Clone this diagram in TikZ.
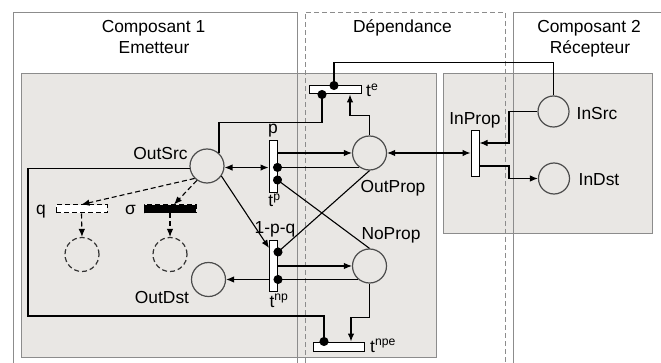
\documentclass[tikz,border=0pt]{standalone}
\usepackage{fontspec}
\setmainfont{Liberation Sans}
\usetikzlibrary{arrows.meta}
\definecolor{boxfill}{RGB}{233,231,228}
\definecolor{boxline}{RGB}{140,140,140}
\newcommand{\tlab}[1]{t\textsuperscript{#1}}

\begin{document}
\begin{tikzpicture}[x=1pt,y=-1pt,
  font=\fontsize{17.4}{21}\selectfont,
  place/.style={circle,draw=black!70,line width=1.2pt,minimum size=34pt,inner sep=0pt},
  vtrans/.style={rectangle,draw,fill=white,line width=1pt,minimum width=8pt,minimum height=52pt,inner sep=0pt},
  htrans/.style={rectangle,draw,fill=white,line width=1pt,minimum width=52pt,minimum height=8pt,inner sep=0pt},
  flow/.style={line width=1.1pt,-{Latex[length=8pt,width=6.5pt]}},
  flow2/.style={line width=1.1pt,{Latex[length=8pt,width=6.5pt]}-{Latex[length=8pt,width=6.5pt]}},
  dot/.style={line width=1.1pt,-{Circle[length=9pt]},shorten >=-4.5pt},
  maybe/.style={dash pattern=on 5pt off 3pt},
  lbl/.style={inner sep=0pt,anchor=base}]

\useasboundingbox (0,0) rectangle (661,363);

% gray areas
\draw[boxline,fill=boxfill] (21,73) rectangle (436,357);
\draw[boxline,fill=boxfill] (443,73) rectangle (652,233);

% component frames
\draw[boxline] (13,363) -- (13,12) -- (297,12) -- (297,363);
\draw[boxline,dash pattern=on 5pt off 3pt] (305,363) -- (305,12) -- (505,12) -- (505,363);
\draw[boxline] (513,363) -- (513,12) -- (661,12);

\node[lbl] (c1a) at (153.5,33) {Composant 1};
\node[lbl] (c1b) at (154,54) {Emetteur};
\node[lbl] (dep) at (402.5,33) {Dépendance};
\node[lbl] (c2a) at (589,33) {Composant 2};
\node[lbl] (c2b) at (590,54) {Récepteur};

% places
\node[place] (OutSrc) at (207,166) {};
\node[place] (OutProp) at (369.5,153) {};
\node[place] (NoProp) at (369.5,266) {};
\node[place] (OutDst) at (208.5,279.5) {};
\node[place,minimum size=31pt] (InSrc) at (553.5,111.5) {};
\node[place,minimum size=31pt] (InDst) at (554,178.5) {};
\node[place,draw=black!80,maybe] (Dq) at (82,254.5) {};
\node[place,draw=black!80,maybe] (Ds) at (170,254.5) {};

% transitions
\node[vtrans] (tp) at (273,167) {};
\node[vtrans,minimum height=51pt] (tnp) at (273.5,266.5) {};
\node[htrans] (te) at (335,90) {};
\node[htrans,minimum width=51pt,minimum height=9pt] (tnpe) at (338.5,346.5) {};
\node[vtrans,minimum height=46pt] (InProp) at (475,154) {};
\node[htrans,maybe,minimum width=51pt] (q) at (81.5,209) {};
\node[htrans,maybe,fill=black] (sigma) at (170,209) {};

% labels
\node[lbl] (lOutSrc) at (160.5,160) {OutSrc};
\node[lbl] (lOutProp) at (393,193) {OutProp};
\node[lbl] (lNoProp) at (391,240) {NoProp};
\node[lbl] (lOutDst) at (162,303) {OutDst};
\node[lbl] (lInSrc) at (597,120) {InSrc};
\node[lbl] (lInDst) at (599,186) {InDst};
\node[lbl] (lInProp) at (475,125) {InProp};
\node[lbl] (lp) at (273,134) {p};
\node[lbl] (ltp) at (274.5,207) {\tlab{p}};
\node[lbl] (lnp) at (275,234) {1-p-q};
\node[lbl] (ltnp) at (279,307) {\tlab{np}};
\node[lbl,anchor=base west] (lte) at (366,97) {\tlab{e}};
\node[lbl,anchor=base west] (ltnpe) at (370,352) {\tlab{npe}};
\node[lbl] (lq) at (41,215) {q};
\node[lbl] (lsigma) at (130.5,215) {σ};

% arcs of tp
\draw[flow2] (OutSrc.-5) -- (OutSrc.-5 -| tp.west);
\draw[flow] (tp.east |- OutProp.west) -- (OutProp.west);
\draw[dot] (OutProp.235) -- (OutProp.235 -| tp.east);
\draw[dot] (NoProp.north) -- (tp.east |- 0,180);

% arcs of tnp
\draw[flow] (OutSrc.-35) -- (tnp.west |- 0,248);
\draw[dot] (OutProp.south) -- (tnp.east |- 0,252);
\draw[flow] (tnp.east |- NoProp.west) -- (NoProp.west);
\draw[dot] (NoProp.230) -- (NoProp.230 -| tnp.east);
\draw[flow] (tnp.west |- OutDst.east) -- (OutDst.east);

% arcs of te
\draw[dot] (OutSrc.47) -- ++(0,-31) -| ([xshift=-13pt]te.south);
\draw[flow] (OutProp.north) -- ++(0,-20) -| ([xshift=15pt]te.south);
\draw[dot] (InSrc.north) -- ++(0,-33) -| ([xshift=-1pt]te.north);

% arcs of tnpe
\draw[flow] (NoProp.south) -- ++(0,34) -| ([xshift=12.5pt]tnpe.north);
\draw[dot] (OutSrc.188) -| (28,316) -| ([xshift=-14.5pt]tnpe.north);

% arcs of InProp
\draw[flow2] (OutProp.east) -- (OutProp.east -| InProp.west);
\draw[flow] (InSrc.west) -| (509,143) -- (InProp.east |- 0,143);
\draw[flow] (InProp.east |- 0,166) -| (509,178.5) -- (InDst.west);

% dashed arcs
\draw[flow,maybe] (OutSrc.225) -- (q.north);
\draw[flow,maybe] (OutSrc.235) -- ([xshift=4pt]sigma.north);
\draw[flow,maybe] (q.south) -- (Dq.north);
\draw[flow,maybe] (sigma.south) -- (Ds.north);

\end{tikzpicture}
\end{document}
